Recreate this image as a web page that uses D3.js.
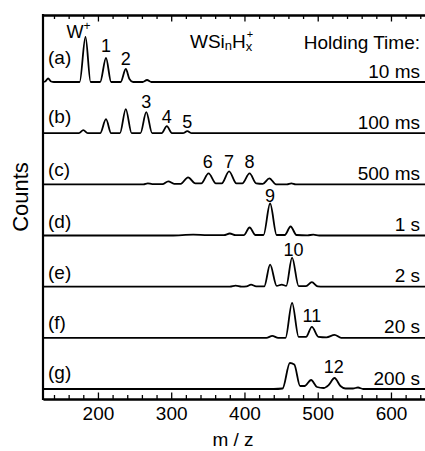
<!DOCTYPE html>
<html>
<head>
<meta charset="utf-8">
<script src="https://cdn.jsdelivr.net/npm/d3@7"></script>
<style>
  html, body { margin: 0; padding: 0; background: #fff; }
  svg { display: block; font-family: "Liberation Sans", Arial, Helvetica, sans-serif; }
  text { fill: #000; }
</style>
</head>
<body>
<svg id="chart" width="425" height="451"></svg>
<script>
// Panels, top to bottom, and the holding time for each
const panels = ["(a)", "(b)", "(c)", "(d)", "(e)", "(f)", "(g)"];
const holdTimes = ["10 ms", "100 ms", "500 ms", "1 s", "2 s", "20 s", "200 s"];

// Mass spectra: [m/z, counts (arb. units)]
const specA = [[125,0],[128,0.5],[132,3.5],[136,0.5],[140,0],
  [175,0],[183,45],[190,0],
  [203,0],[211,24],[218,0],
  [231,0],[238,13],[243,3],[248,0],
  [261,0],[267,2],[273,0],[650,0]];
const specB = [[125,0],[174,0],[180,3],[186,0],
  [203,0],[211,14],[218,0],
  [230,0],[238,24],[246,0],
  [258,0],[266,21],[274,0],
  [287,0],[294,7],[301,0],
  [316,0],[322,2],[328,0],[650,0]];
const specC = [[125,0],[262,0],[268,1],[274,0.3],
  [288,0.3],[296,3],[304,0.5],
  [313,0.5],[323,7],[333,1],
  [341,1],[351,11],[361,1],
  [369,1],[379,13],[389,1],
  [397,1],[407,11],[416,1],
  [425,0.5],[434,6],[443,0],
  [458,0],[464,1],[470,0],[650,0]];
const specD = [[125,0],[300,0],[330,0.8],[350,0.3],[372,0.3],[380,2],[388,0.3],
  [399,0.3],[407,8],[415,0.5],
  [426,0.5],[435,32],[444,0.5],
  [455,0.5],[463,9],[471,0.5],
  [486,0.2],[494,0.8],[502,0],[650,0]];
const specE = [[125,0],[380,0],[388,1],[396,0],[403,0.3],[409,2],[416,0.3],
  [427,0.3],[435,22],[444,0.8],[451,2],[457,0.8],[465,29],[474,0.5],
  [484,0.5],[492,4.5],[500,0.3],[508,0],[650,0]];
const specF = [[125,0],[430,0],[438,2],[446,0],
  [456,0],[465,35],[474,1],[484,1],[492,11],[501,1],
  [512,0.5],[523,3],[532,0],[650,0]];
const specG = [[125,0],[440,0],[452,0.5],[462,26],[468,24.5],[476,3],[482,3],
  [491,9],[499,2],[508,1],[515,4],[523,11],[531,3],[538,0.5],
  [548,0.5],[555,1.5],[562,0],[650,0]];
const spectra = [specA, specB, specC, specD, specE, specF, specG];

// Cluster labels: [panel, text, m/z, height above baseline (counts)]
const peakLabels = [
  ["(a)", "1", 211, 30], ["(a)", "2", 238, 17],
  ["(b)", "3", 266, 25], ["(b)", "4", 294, 10], ["(b)", "5", 322, 5],
  ["(c)", "6", 350, 16], ["(c)", "7", 379, 16], ["(c)", "8", 407, 16],
  ["(d)", "9", 435, 33.5],
  ["(e)", "10", 467, 31],
  ["(f)", "11", 492, 16],
  ["(g)", "12", 522, 16]
];

// Axis ticks
const xDomain = [125, 650];
const majorTicks = [200, 300, 400, 500, 600];
const minorTicks = d3.range(140, 650, 20).filter(v => v % 100 !== 0);

const svg = d3.select("#chart");
const plotLeft = 43, plotTop = 15, plotBottom = 399;

const x = d3.scaleLinear().domain(xDomain).range([plotLeft, 427.6]);
const yBase = d3.scalePoint().domain(panels).range([82, 389]);
const yCount = d3.scaleLinear().domain([0, 50]).range([0, 50]);

const line = d3.line()
  .x(d => x(d[0]))
  .curve(d3.curveMonotoneX);

// Spectra
spectra.forEach((spec, i) => {
  const b = yBase(panels[i]);
  svg.append("path")
    .attr("d", line.y(d => b - yCount(d[1]))(spec))
    .attr("fill", "none")
    .attr("stroke", "#000")
    .attr("stroke-width", 1.8)
    .attr("stroke-linejoin", "round");
});

// Bottom axis: major ticks with labels, minor ticks without, all pointing inward
const gBot = svg.append("g").attr("transform", `translate(0,${plotBottom})`);
gBot.call(d3.axisBottom(x).tickValues(majorTicks).tickSizeInner(-6.5).tickSizeOuter(0).tickPadding(8));
gBot.append("g").call(d3.axisBottom(x).tickValues(minorTicks).tickSizeInner(-4).tickSizeOuter(0).tickFormat(""));
gBot.selectAll(".domain").attr("stroke-width", 2);
gBot.selectAll(".tick line").attr("stroke-width", 1.3);
gBot.selectAll(".tick text").attr("font-size", 19).attr("font-family", "Liberation Sans, Arial, sans-serif").attr("fill", "#000");

// Top axis
const gTop = svg.append("g").attr("transform", `translate(0,${plotTop})`);
gTop.call(d3.axisTop(x).tickValues(majorTicks).tickSizeInner(-6.5).tickSizeOuter(0).tickFormat(""));
gTop.append("g").call(d3.axisTop(x).tickValues(minorTicks).tickSizeInner(-4).tickSizeOuter(0).tickFormat(""));
gTop.selectAll(".domain").attr("stroke-width", 2);
gTop.selectAll(".tick line").attr("stroke-width", 1.3);

// Left frame line
svg.append("line")
  .attr("x1", plotLeft).attr("x2", plotLeft)
  .attr("y1", plotTop - 1).attr("y2", plotBottom + 1)
  .attr("stroke", "#000").attr("stroke-width", 2.2);

// Panel letters and holding times
const labelOffsets = [18, 10, 8, 8, 8, 9, 10];
panels.forEach((p, i) => {
  const b = yBase(p);
  svg.append("text")
    .attr("x", 48).attr("y", b - labelOffsets[i])
    .attr("font-size", 19)
    .text(p);
  svg.append("text")
    .attr("x", 420).attr("y", b - 4.5)
    .attr("text-anchor", "end")
    .attr("font-size", 19)
    .text(holdTimes[i]);
});

// Cluster size labels
peakLabels.forEach(([p, t, mz, h]) => {
  svg.append("text")
    .attr("x", x(mz)).attr("y", yBase(p) - yCount(h))
    .attr("text-anchor", "middle")
    .attr("font-size", 18)
    .text(t);
});

// W+ label on the bare metal ion peak
const wLabel = svg.append("text")
  .attr("x", x(183) - 19).attr("y", yBase("(a)") - yCount(44))
  .attr("font-size", 18);
wLabel.append("tspan").text("W");
wLabel.append("tspan").attr("dy", -8).attr("font-size", 12).text("+");

// Species header: WSi_nH_x^+ (charge sits above the x subscript)
const hdr = svg.append("text").attr("x", 190).attr("y", 48).attr("font-size", 19);
hdr.append("tspan").text("WSi");
hdr.append("tspan").attr("dy", 2).attr("font-size", 13).text("n");
hdr.append("tspan").attr("dy", -2).text("H");
hdr.append("tspan").attr("dy", 3).attr("font-size", 13).text("x");
hdr.append("tspan").attr("dx", -5.5).attr("dy", -13).attr("font-size", 11).text("+");

svg.append("text")
  .attr("x", 420).attr("y", 49)
  .attr("text-anchor", "end")
  .attr("font-size", 19)
  .text("Holding Time:");

// Axis titles
svg.append("text")
  .attr("transform", "translate(28,197) rotate(-90)")
  .attr("text-anchor", "middle")
  .attr("font-size", 22)
  .text("Counts");

svg.append("text")
  .attr("x", 233).attr("y", 446)
  .attr("text-anchor", "middle")
  .attr("font-size", 19)
  .text("m / z");
</script>
</body>
</html>
